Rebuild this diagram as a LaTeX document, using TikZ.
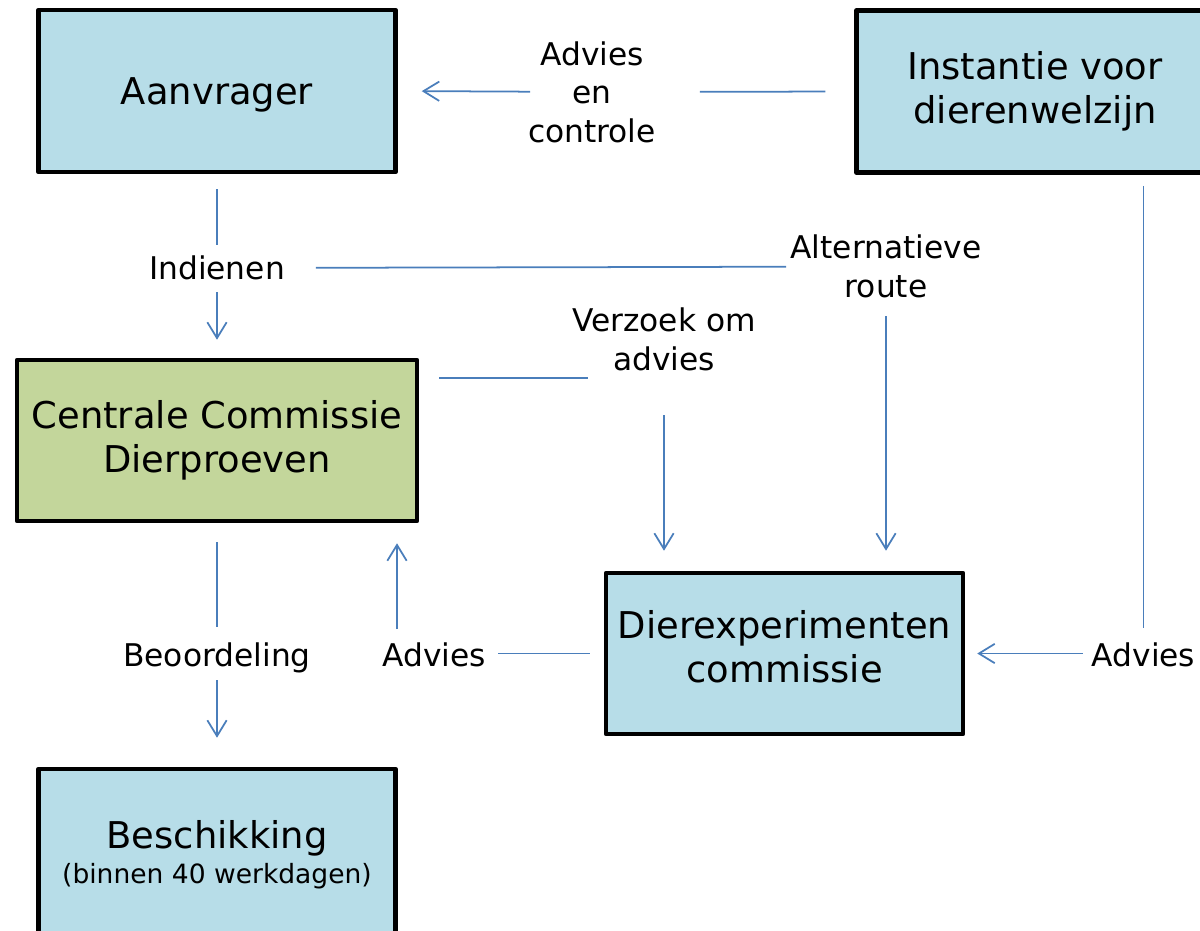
\documentclass[tikz,border=0pt]{standalone}
\usepackage{fontspec}
\setmainfont{DejaVu Sans}
\usetikzlibrary{arrows.meta}
\definecolor{kastblau}{HTML}{B7DDE8}
\definecolor{kastgruen}{HTML}{C3D69B}
\definecolor{lijnblau}{HTML}{4A7EBB}

\begin{document}
\begin{tikzpicture}[x=0.02cm,y=-0.02cm,line join=round,
	>={Straight Barb[length=9pt,width=11pt]},
	kast/.style={draw,line width=2.6pt,fill=kastblau,align=center,inner sep=0pt,
		minimum width=7.14cm,minimum height=3.24cm,font=\fontsize{21}{25}\selectfont},
	tekst/.style={align=center,inner sep=0pt,font=\fontsize{17.8}{22}\selectfont},
	eenregel/.style={text height=#1,text depth=0pt},
	lijn/.style={draw=lijnblau,line width=1pt}]
	\useasboundingbox (0,0) rectangle (1200,930);
	\clip (0,0) rectangle (1200,930);
	% Kaesten
	\node [kast,eenregel=15.3pt] (aanvrager) at (217,91) {Aanvrager};
	\node [kast] (instantie) at (1035,91.5) {Instantie voor\\dierenwelzijn};
	\node [kast,fill=kastgruen,minimum width=8cm,minimum height=3.22cm] (ccd) at (217,440.5) {Centrale Commissie\\Dierproeven};
	\node [kast,minimum height=3.22cm] (dec) at (784.5,653.5) {Dierexperimenten\\commissie\strut};
	\node [kast,minimum height=3.42cm] (beschikking) at (217,854.5) {Beschikking\\[-5pt]{\fontsize{15.1}{18}\selectfont (binnen 40 werkdagen)}};
	% Beschriftungen
	\node [tekst] (advcon) at (592,92) {Advies\\en\\controle};
	\node [tekst,eenregel=13pt] (indienen) at (217,268) {Indienen};
	\node [tekst] (alt) at (886,266.5) {Alternatieve\\route};
	\node [tekst] (verzoek) at (664,339.5) {Verzoek om\\advies};
	\node [tekst,eenregel=13pt] (beoord) at (217,655) {Beoordeling};
	\node [tekst,eenregel=13pt] (adviesl) at (434,655) {Advies};
	\node [tekst,eenregel=13pt] (adviesr) at (1143.5,655) {Advies};
	\coordinate (vzk) at (588,378);
	\coordinate (advup) at (397,629);
	% Verbindungen
	\draw [lijn,shorten <=0.58cm,shorten >=2.16cm] (instantie.west) -- (advcon.center);
	\draw [lijn,->,shorten <=1.24cm,shorten >=0.48cm] (advcon.center) -- (aanvrager.east);
	\draw [lijn,shorten <=0.3cm,shorten >=0.46cm] (aanvrager.south) -- (indienen.center);
	\draw [lijn,->,shorten <=0.48cm,shorten >=0.36cm] (indienen.center) -- (ccd.north);
	\draw [lijn,shorten <=1.98cm,shorten >=2cm] (indienen.center) -- (alt.center);
	\draw [lijn,->,shorten <=1cm,shorten >=0.4cm] (alt.center) -- (alt.center |- dec.north);
	\draw [lijn,shorten <=0.4cm] (ccd.east |- vzk) -- (vzk);
	\draw [lijn,->,shorten <=1.52cm,shorten >=0.4cm] (verzoek.center) -- (verzoek.center |- dec.north);
	\draw [lijn,shorten <=0.38cm,shorten >=0.56cm] (ccd.south) -- (beoord.center);
	\draw [lijn,->,shorten <=0.5cm,shorten >=0.58cm] (beoord.center) -- (beschikking.north);
	\draw [lijn,shorten <=0.28cm,shorten >=1.28cm] (dec.west) -- (dec.west -| adviesl.center);
	\draw [lijn,->,shorten >=0.4cm] (advup) -- (advup |- ccd.south);
	\draw [lijn,shorten <=0.22cm,shorten >=0.54cm] (adviesr.center |- instantie.south) -- (adviesr.center);
	\draw [lijn,->,shorten <=1.22cm,shorten >=0.24cm] (dec.east -| adviesr.center) -- (dec.east);
\end{tikzpicture}
\end{document}
